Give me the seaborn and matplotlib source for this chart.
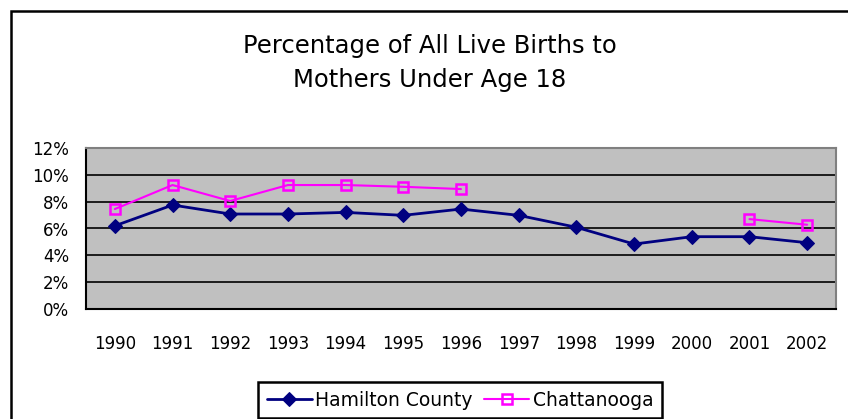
import numpy as np
import pandas as pd
import matplotlib
matplotlib.use("Agg")
import matplotlib.pyplot as plt
import seaborn as sns
from matplotlib.ticker import FuncFormatter, FixedLocator
from matplotlib.patches import Rectangle

years = ["1990", "1991", "1992", "1993", "1994", "1995", "1996",
         "1997", "1998", "1999", "2000", "2001", "2002"]
hamilton = [6.2, 7.75, 7.08, 7.08, 7.2, 6.98, 7.45, 6.98, 6.09, 4.84, 5.39, 5.39, 4.94]
chattanooga = [7.45, 9.24, 8.05, 9.24, 9.24, 9.11, 8.94,
               np.nan, np.nan, np.nan, np.nan, 6.7, 6.28]
y_ticks = [0, 2, 4, 6, 8, 10, 12]

NAVY = "#000080"
MAGENTA = "#FF00FF"

sns.set_style("white")
plt.rcParams["font.family"] = ["DejaVu Sans"]
plt.rcParams["text.color"] = "black"
plt.rcParams["xtick.color"] = "black"
plt.rcParams["ytick.color"] = "black"

fig = plt.figure(figsize=(8.48, 4.19), dpi=100)
fig.patches.append(Rectangle((11 / 848, -0.1), 1.0, (419 - 11) / 419 + 0.1,
                             transform=fig.transFigure, fill=False,
                             edgecolor="black", linewidth=1.8))

ax = fig.add_axes([86 / 848, (419 - 309) / 419, 750 / 848, 161 / 419])
ax.set_facecolor("#C0C0C0")

df = pd.DataFrame({"pos": np.arange(len(years)), "year": years,
                   "Hamilton County": hamilton, "Chattanooga": chattanooga})

for y in y_ticks[1:]:
    ax.axhline(y, color="black", linewidth=1.2, zorder=1)

sns.lineplot(data=df, x="pos", y="Hamilton County", ax=ax, color=NAVY,
             marker="D", markersize=7, markeredgecolor=NAVY, linewidth=2,
             label="Hamilton County", zorder=3)

# split Chattanooga into contiguous runs so the gap stays open
valid = df["Chattanooga"].notna()
runs = (valid != valid.shift()).cumsum()
first = True
for _, seg in df[valid].groupby(runs[valid]):
    sns.lineplot(data=seg, x="pos", y="Chattanooga", ax=ax, color=MAGENTA,
                 marker="s", markersize=7, markerfacecolor="none",
                 markeredgecolor=MAGENTA, markeredgewidth=1.8, linewidth=1.5,
                 label="Chattanooga" if first else None, zorder=4)
    first = False

ax.set_xlim(-0.5, len(years) - 0.5)
ax.set_ylim(0, 12)
ax.set_xticks(df["pos"])
ax.set_xticklabels(years)
ax.xaxis.set_minor_locator(FixedLocator(np.arange(-0.5, len(years), 1)))
ax.tick_params(axis="x", which="major", length=0, pad=19, labelsize=12)
ax.tick_params(axis="x", which="minor", length=5, width=1.5, color="black",
               direction="out")
ax.set_yticks(y_ticks)
ax.yaxis.set_major_formatter(FuncFormatter(lambda v, p: f"{v:.0f}%"))
ax.tick_params(axis="y", length=6, width=1.5, color="black", direction="out",
               labelsize=12, pad=6)
ax.set_xlabel("")
ax.set_ylabel("")

for side in ["left", "bottom"]:
    ax.spines[side].set_color("black")
    ax.spines[side].set_linewidth(1.5)
for side in ["top", "right"]:
    ax.spines[side].set_visible(True)
    ax.spines[side].set_color("#808080")
    ax.spines[side].set_linewidth(1.5)

fig.text(430 / 848, 1 - 46 / 419, "Percentage of All Live Births to",
         ha="center", va="center", fontsize=17.5)
fig.text(430 / 848, 1 - 80 / 419, "Mothers Under Age 18",
         ha="center", va="center", fontsize=17.5)

ax.get_legend().remove()
handles, labels = ax.get_legend_handles_labels()
leg = fig.legend(handles, labels, ncol=2, loc="lower center",
                 bbox_to_anchor=(460 / 848, 1 / 419), fontsize=13.5,
                 frameon=True, fancybox=False, edgecolor="black",
                 framealpha=1, handlelength=2.4, handletextpad=0.2,
                 columnspacing=0.6, borderpad=0.45, borderaxespad=0)
leg.get_frame().set_linewidth(1.8)

fig.savefig("out.png", dpi=100)
